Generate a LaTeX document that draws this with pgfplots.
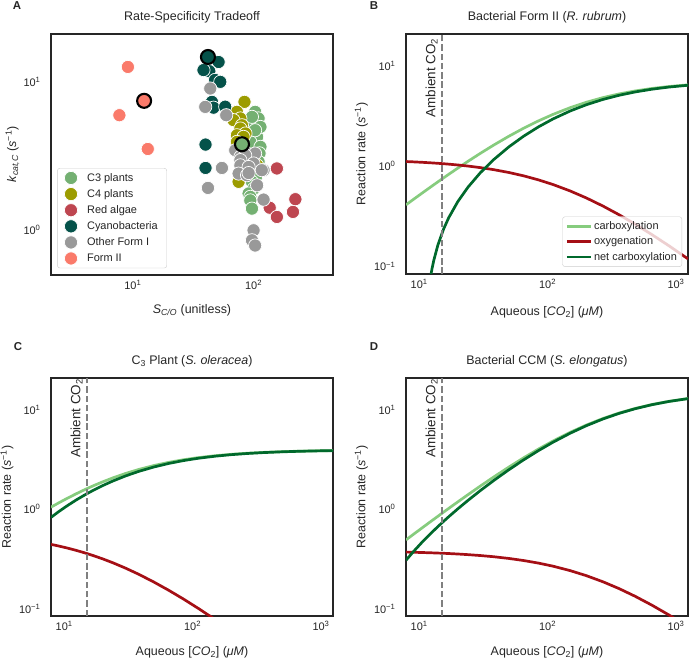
\documentclass[border=0pt]{standalone}
\usepackage{pgfplots}
\pgfplotsset{compat=1.18}
\usepackage{pgfplotstable}
\usepackage{fontspec}
\setmainfont{Liberation Sans}

\definecolor{cthree}{HTML}{74B072}
\definecolor{cfour}{HTML}{9C9C00}
\definecolor{redalg}{HTML}{BE4650}
\definecolor{cyano}{HTML}{05524A}
\definecolor{otherI}{HTML}{999999}
\definecolor{formII}{HTML}{FA7A6A}
\definecolor{carbc}{HTML}{86CC7E}
\definecolor{oxyc}{HTML}{A50F15}
\definecolor{netc}{HTML}{00692C}
\definecolor{frame}{HTML}{262626}
\definecolor{ambient}{HTML}{808080}
\definecolor{legendgray}{HTML}{CCCCCC}

% rates vs aqueous CO2 (uM)
\pgfplotstableread{
C carb oxy net
7.9 0.4125 1.1165 nan
9 0.4662 1.1082 nan
10.5 0.5381 1.0971 nan
12.3 0.6223 1.0840 0.0803
12.6 0.6362 1.0819 0.0953
13 0.6545 1.0790 0.1150
14 0.7000 1.0719 0.1641
15.5 0.7670 1.0615 0.2363
17 0.8327 1.0513 0.3071
20 0.9600 1.0315 0.4443
24 1.1221 1.0061 0.6191
30 1.3500 0.9704 0.8648
38 1.6286 0.9265 1.1654
50 2.0000 0.8676 1.5662
65 2.4000 0.8038 1.9981
85 2.8465 0.7320 2.4805
110 3.3000 0.6585 2.9708
150 3.8571 0.5673 3.5735
200 4.3636 0.4836 4.1218
270 4.8600 0.4008 4.6596
360 5.2898 0.3285 5.1256
480 5.6656 0.2648 5.5332
650 6.0000 0.2077 5.8962
880 6.2733 0.1609 6.1929
1240 6.5168 0.1189 6.4574
}\rubrum

\pgfplotstableread{
C carb oxy net
7.9 1.0489 0.4426 0.8276
9 1.1526 0.4270 0.9391
10.5 1.2826 0.4075 1.0789
12.3 1.4236 0.3862 1.2305
14 1.5439 0.3681 1.3599
15.5 1.6409 0.3535 1.4642
17 1.7305 0.3399 1.5606
20 1.8905 0.3158 1.7326
24 2.0713 0.2885 1.9271
30 2.2904 0.2553 2.1628
38 2.5143 0.2214 2.4036
50 2.7569 0.1846 2.6646
65 2.9661 0.1529 2.8897
85 3.1537 0.1244 3.0915
110 3.3083 0.1008 3.2579
150 3.4622 0.0774 3.4235
200 3.5766 0.0600 3.5466
270 3.6709 0.0456 3.6481
360 3.7414 0.0349 3.7240
480 3.7960 0.0265 3.7827
650 3.8400 0.0198 3.8301
880 3.8732 0.0148 3.8658
1240 3.9008 0.0106 3.8955
}\oleracea

\pgfplotstableread{
C carb oxy net
7.9 0.4912 0.3701 0.3062
9 0.5571 0.3686 0.3728
10.5 0.6462 0.3665 0.4630
12.3 0.7516 0.3640 0.5696
14 0.8498 0.3617 0.6690
15.5 0.9354 0.3598 0.7555
17 1.0200 0.3578 0.8411
20 1.1863 0.3539 1.0094
24 1.4022 0.3488 1.2278
30 1.7143 0.3415 1.5436
38 2.1096 0.3323 1.9435
50 2.6621 0.3192 2.5025
65 3.2922 0.3043 3.1401
85 4.0427 0.2865 3.8995
110 4.8612 0.2670 4.7277
150 5.9542 0.2407 5.8339
200 7.0429 0.2143 6.9358
270 8.2105 0.1858 8.1176
360 9.3134 0.1587 9.2341
480 10.3568 0.1328 10.2904
650 11.3550 0.1079 11.3011
880 12.2244 0.0861 12.1814
1240 13.0439 0.0654 13.0112
}\elongatus

\pgfplotsset{
  every axis/.append style={
    scale only axis, width=282bp,
    axis line style={draw=frame, line width=1.25bp},
    major tick length=0pt, minor tick length=0pt,
    tick label style={font=\fontsize{11}{12}\selectfont, text=frame},
    yticklabel style={xshift=-7bp},
    xticklabel style={yshift=-1.5bp},
    label style={font=\fontsize{12.5}{14}\selectfont, text=frame},
    title style={font=\fontsize{12.5}{14}\selectfont, text=frame, anchor=base, yshift=7.5bp},
  },
}

\begin{document}
\begin{tikzpicture}
\useasboundingbox (0,0) rectangle (689bp,659bp);

% A: rate vs specificity
\begin{loglogaxis}[at={(51bp,384bp)}, anchor=south west, height=241bp,
  xmin=2.1, xmax=455, ymin=0.5, ymax=21,
  xtick={10,100}, xticklabels={10\textsuperscript{1},10\textsuperscript{2}},
  ytick={1,10}, yticklabels={10\textsuperscript{0},10\textsuperscript{1}},
  title={Rate-Specificity Tradeoff},
  xlabel={\textit{S}\textsubscript{\textit{C/O}} (unitless)},
  ylabel={\textit{k}\textsubscript{\textit{cat,C}} (\textit{s}\textsuperscript{−1})},
  xlabel style={at={(axis description cs:0.5,-0.158)}, anchor=base},
  ylabel style={at={(axis description cs:-0.124,0.5)}, anchor=base},
  legend cell align=left,
  legend style={at={(0.022,0.028)}, anchor=south west, draw=legendgray, rounded corners=2.5bp,
    fill=white, font=\fontsize{11}{12}\selectfont, text=frame, inner xsep=7bp, inner ysep=3bp,
    row sep=2.7bp, /tikz/every odd column/.append style={column sep=7.5bp}},
]
\addplot[only marks, mark=*, mark size=6.6bp, mark options={draw=white, line width=0.7bp, fill=cthree}] coordinates {
(100,5.96) (103,5.52) (88.2,5.1) (107,4.26) (94,3.94) (114,3.65) (103,6.28) (110,5.67)
(97,5.81) (114,4.97) (103,4.72) (112,3.3) (110,2.9) (105,2.3) (97,2.12) (100,1.9)
(91,1.77) (94,1.68) (94,1.59) (97,1.4)};
\addlegendentry{C3 plants}
\addplot[only marks, mark=*, mark size=6.6bp, mark options={draw=white, line width=0.7bp, fill=cfour}] coordinates {
(84.1,7.33) (68.2,6.12) (72.8,6.28) (77.8,5.67) (68.2,5.52) (80.2,5.1) (77.8,4.85)
(85.8,4.49) (72.8,4.37) (82.6,4.26) (72.8,3.94) (75.2,2.12) (107,2.74)};
\addlegendentry{C4 plants}
\addplot[only marks, mark=*, mark size=6.6bp, mark options={draw=white, line width=0.7bp, fill=redalg}] coordinates {
(156,2.61) (222,1.62) (136,1.42) (212,1.33) (156,1.23)};
\addlegendentry{Red algae}
\addplot[only marks, mark=*, mark size=6.6bp, mark options={draw=white, line width=0.7bp, fill=cyano}] coordinates {
(51.3,13.6) (43,11.8) (38.5,12.0) (48,10.3) (53,10.0) (45.2,7.33) (46.6,6.7)
(58.2,6.8) (40,3.78) (40,2.63)};
\addlegendentry{Cyanobacteria}
\addplot[only marks, mark=*, mark size=6.6bp, mark options={draw=white, line width=0.7bp, fill=otherI}] coordinates {
(43.8,9.02) (39.8,6.78) (59.4,5.96) (54.7,2.63) (41.9,1.93) (70.5,3.46) (77.8,3.12)
(88.2,3.29) (103,3.29) (85.3,3.2) (77.8,2.97) (100,2.82) (77.8,2.74) (91,2.67)
(121,2.54) (117,2.54) (75.2,2.41) (88.2,2.35) (91,2.43) (107,2.01) (121,1.61)
(100,1.0) (97,0.857) (103,0.79)};
\addlegendentry{Other Form I}
\addplot[only marks, mark=*, mark size=6.6bp, mark options={draw=white, line width=0.7bp, fill=formII}] coordinates {
(9.1,12.6) (7.74,5.96) (13.3,3.53)};
\addlegendentry{Form II}
% highlighted species
\addplot[forget plot, only marks, mark=*, mark size=7bp, mark options={draw=black, line width=2.1bp, fill=formII}] coordinates {(12.4,7.45)};
\addplot[forget plot, only marks, mark=*, mark size=7bp, mark options={draw=black, line width=2.1bp, fill=cyano}] coordinates {(41.9,14.7)};
\addplot[forget plot, only marks, mark=*, mark size=7bp, mark options={draw=black, line width=2.1bp, fill=cthree}] coordinates {(80.2,3.8)};
\end{loglogaxis}

% B: R. rubrum
\begin{loglogaxis}[at={(406bp,385bp)}, anchor=south west, height=240bp,
  xmin=7.9, xmax=1240, ymin=0.084, ymax=21,
  xtick={10,100,1000}, xticklabels={10\textsuperscript{1},10\textsuperscript{2},10\textsuperscript{3}},
  ytick={0.1,1,10}, yticklabels={10\textsuperscript{−1},10\textsuperscript{0},10\textsuperscript{1}},
  title={Bacterial Form II (\textit{R. rubrum})},
  xlabel={Aqueous [\textit{CO}\textsubscript{2}] (\textit{μM})},
  ylabel={Reaction rate (\textit{s}\textsuperscript{−1})},
  xlabel style={at={(axis description cs:0.5,-0.171)}, anchor=base},
  ylabel style={at={(axis description cs:-0.1443,0.5)}, anchor=base},
  legend cell align=left,
  legend image post style={xscale=1.4, line width=2.7bp},
  legend style={at={(0.979,0.03)}, anchor=south east, draw=legendgray, rounded corners=2.5bp,
    fill=white, fill opacity=0.8, draw opacity=1, text opacity=1,
    font=\fontsize{11}{12}\selectfont, text=frame, inner sep=3bp, row sep=1.8bp},
]
\addplot[carbc, line width=2.7bp] table[x=C, y=carb] {\rubrum};
\addlegendentry{carboxylation}
\addplot[oxyc, line width=2.7bp] table[x=C, y=oxy] {\rubrum};
\addlegendentry{oxygenation}
\addplot[netc, line width=2.7bp] table[x=C, y=net] {\rubrum};
\addlegendentry{net carboxylation}
\addplot[ambient, line width=1.8bp, dash pattern=on 6.5bp off 2.8bp, forget plot] coordinates {(15,0.084) (15,21)};
\node[rotate=90, anchor=south east, inner sep=0pt, font=\fontsize{13.5}{15}\selectfont, text=frame]
  at (axis cs:13.95,19) {Ambient CO\textsubscript{2}};
\end{loglogaxis}

% C: S. oleracea
\begin{loglogaxis}[at={(51bp,43bp)}, anchor=south west, height=238bp,
  xmin=7.9, xmax=1240, ymin=0.084, ymax=21,
  xtick={10,100,1000}, xticklabels={10\textsuperscript{1},10\textsuperscript{2},10\textsuperscript{3}},
  ytick={0.1,1,10}, yticklabels={10\textsuperscript{−1},10\textsuperscript{0},10\textsuperscript{1}},
  title={C\textsubscript{3} Plant (\textit{S. oleracea})},
  xlabel={Aqueous [\textit{CO}\textsubscript{2}] (\textit{μM})},
  ylabel={Reaction rate (\textit{s}\textsuperscript{−1})},
  xlabel style={at={(axis description cs:0.5,-0.164)}, anchor=base},
  ylabel style={at={(axis description cs:-0.142,0.5)}, anchor=base},
]
\addplot[carbc, line width=2.7bp] table[x=C, y=carb] {\oleracea};
\addplot[oxyc, line width=2.7bp] table[x=C, y=oxy] {\oleracea};
\addplot[netc, line width=2.7bp] table[x=C, y=net] {\oleracea};
\addplot[ambient, line width=1.8bp, dash pattern=on 6.5bp off 2.8bp] coordinates {(15,0.084) (15,21)};
\node[rotate=90, anchor=south east, inner sep=0pt, font=\fontsize{13.5}{15}\selectfont, text=frame]
  at (axis cs:13.95,20.7) {Ambient CO\textsubscript{2}};
\end{loglogaxis}

% D: S. elongatus
\begin{loglogaxis}[at={(406bp,43bp)}, anchor=south west, height=238bp,
  xmin=7.9, xmax=1240, ymin=0.084, ymax=21,
  xtick={10,100,1000}, xticklabels={10\textsuperscript{1},10\textsuperscript{2},10\textsuperscript{3}},
  ytick={0.1,1,10}, yticklabels={10\textsuperscript{−1},10\textsuperscript{0},10\textsuperscript{1}},
  title={Bacterial CCM (\textit{S. elongatus})},
  xlabel={Aqueous [\textit{CO}\textsubscript{2}] (\textit{μM})},
  ylabel={Reaction rate (\textit{s}\textsuperscript{−1})},
  xlabel style={at={(axis description cs:0.5,-0.164)}, anchor=base},
  ylabel style={at={(axis description cs:-0.1443,0.5)}, anchor=base},
]
\addplot[carbc, line width=2.7bp] table[x=C, y=carb] {\elongatus};
\addplot[oxyc, line width=2.7bp] table[x=C, y=oxy] {\elongatus};
\addplot[netc, line width=2.7bp] table[x=C, y=net] {\elongatus};
\addplot[ambient, line width=1.8bp, dash pattern=on 6.5bp off 2.8bp] coordinates {(15,0.084) (15,21)};
\node[rotate=90, anchor=south east, inner sep=0pt, font=\fontsize{13.5}{15}\selectfont, text=frame]
  at (axis cs:13.95,20.7) {Ambient CO\textsubscript{2}};
\end{loglogaxis}

% panel letters
\node[font=\fontsize{11.5}{13}\selectfont\bfseries, text=frame, inner sep=0pt] at (17bp,653.5bp) {A};
\node[font=\fontsize{11.5}{13}\selectfont\bfseries, text=frame, inner sep=0pt] at (374bp,653.2bp) {B};
\node[font=\fontsize{11.5}{13}\selectfont\bfseries, text=frame, inner sep=0pt] at (18bp,312.3bp) {C};
\node[font=\fontsize{11.5}{13}\selectfont\bfseries, text=frame, inner sep=0pt] at (374bp,312.3bp) {D};
\end{tikzpicture}
\end{document}
